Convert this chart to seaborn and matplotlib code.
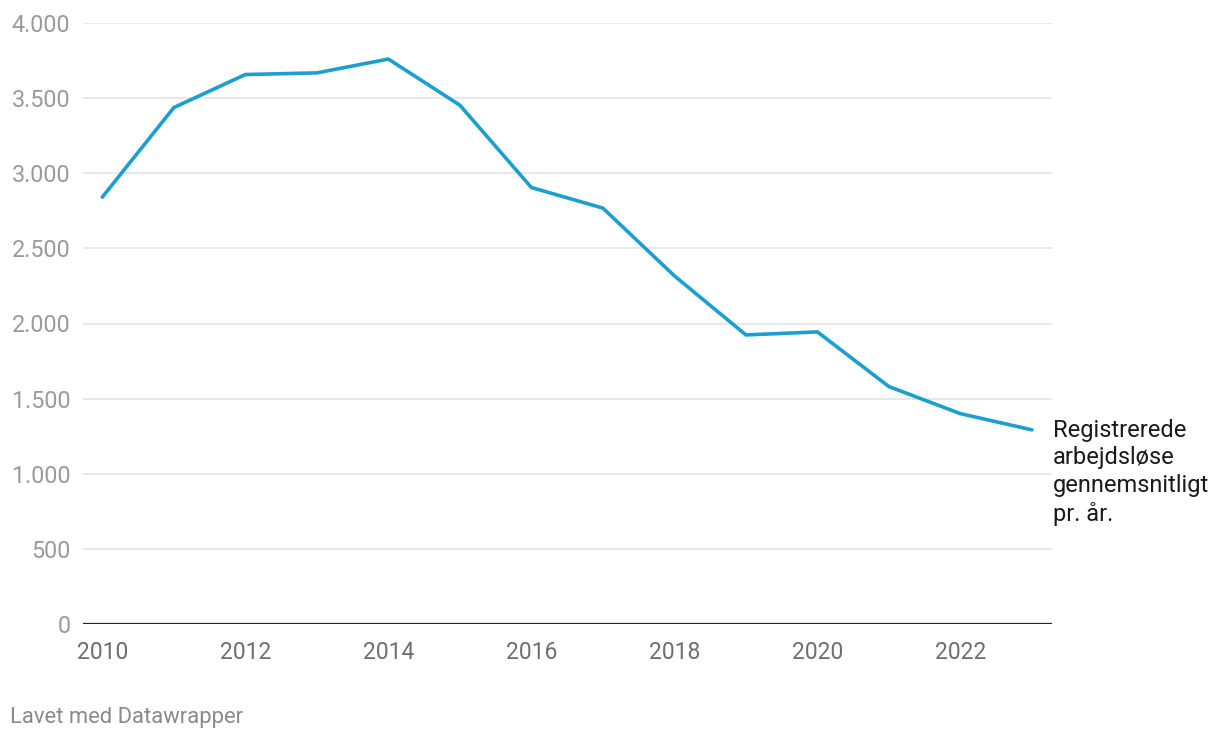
import pandas as pd
import seaborn as sns
import matplotlib.pyplot as plt
from matplotlib.ticker import FuncFormatter

years = [2010, 2011, 2012, 2013, 2014, 2015, 2016, 2017, 2018, 2019, 2020, 2021, 2022, 2023]
unemployed = [2841, 3437, 3657, 3668, 3760, 3453, 2905, 2768, 2317, 1924, 1944, 1580, 1400, 1292]
y_ticks = [0, 500, 1000, 1500, 2000, 2500, 3000, 3500, 4000]
x_ticks = [2010, 2012, 2014, 2016, 2018, 2020, 2022]
series_label = "Registrerede\narbejdsløse\ngennemsnitligt\npr. år."
footer = "Lavet med Datawrapper"

df = pd.DataFrame({"year": years, "value": unemployed})

sns.set_theme(style="white")
plt.rcParams['font.family'] = ['Roboto', 'DejaVu Sans']

fig = plt.figure(figsize=(12.2, 7.4), dpi=100)
ax = fig.add_axes([83 / 1220, 1 - 624 / 740, (1052 - 83) / 1220, (624 - 23) / 740])

sns.lineplot(data=df, x="year", y="value", ax=ax, color="#1a9fcf", linewidth=2.6,
             solid_joinstyle="miter")

ax.set_ylim(0, 4000)
ax.set_xlim(2009.73, 2023.28)
ax.set_yticks(y_ticks)
ax.set_xticks(x_ticks)
ax.yaxis.set_major_formatter(FuncFormatter(lambda v, p: f"{int(v):,}".replace(",", ".")))

for t in y_ticks[1:]:
    ax.axhline(t, color="#e2e2e2", linewidth=1.1, zorder=0)
ax.axhline(0, color="#222222", linewidth=1.6, zorder=3)

for s in ax.spines.values():
    s.set_visible(False)

ax.tick_params(axis="y", length=0, pad=9, labelsize=16.8, labelcolor="#9a9a9a")
ax.tick_params(axis="x", length=0, pad=12, labelsize=16.5, labelcolor="#6e6e6e")
ax.set_xlabel("")
ax.set_ylabel("")

ax.annotate(series_label, xy=(years[-1], unemployed[-1]), xytext=(15, 8),
            textcoords="offset points", fontsize=17, color="#1a1a1a",
            va="top", ha="left", linespacing=1.25, annotation_clip=False)

fig.text(10 / 1220, 1 - 717 / 740, footer, fontsize=15.8, color="#8a8a8a", va="center", ha="left")

fig.savefig("out.png", dpi=100)
